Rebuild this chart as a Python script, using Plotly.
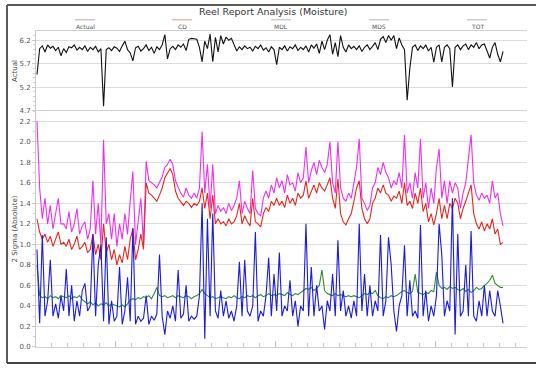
import plotly.graph_objects as go

# Reel-by-reel moisture data (sample index = reel number)
actual = [
    5.47, 6.02, 6.08, 5.95, 6.10, 6.03, 6.07, 5.98, 6.05, 5.87,
    6.02, 5.94, 6.06, 6.04, 6.10, 5.99, 6.05, 6.00, 6.08, 5.96,
    6.05, 6.00, 6.07, 5.95, 6.02, 4.79, 6.00, 6.04, 5.98, 6.06,
    6.03, 5.96, 6.08, 6.18, 6.00, 5.93, 5.76, 6.04, 6.07, 5.97,
    6.02, 6.10, 5.98, 6.05, 5.92, 6.06, 6.00, 6.10, 6.32, 5.80,
    6.02, 6.07, 6.00, 6.10, 6.05, 6.12, 5.98, 6.22, 6.24, 6.23,
    6.22, 6.05, 5.74, 6.18, 6.02, 6.33, 5.74, 6.26, 5.95, 6.30,
    6.12, 6.27, 6.20, 6.24, 6.10, 5.97, 6.06, 6.00, 6.08, 6.02,
    6.05, 5.97, 6.07, 6.02, 6.10, 5.99, 6.04, 5.95, 6.06, 6.00,
    5.68, 6.05, 6.00, 6.08, 5.97, 6.06, 6.02, 6.10, 5.98, 6.05,
    6.00, 6.08, 5.95, 6.10, 6.03, 6.12, 5.92, 6.18, 6.00, 6.20,
    6.32, 5.90, 6.15, 5.85, 6.30, 6.05, 5.95, 6.10, 6.02, 6.07,
    6.00, 6.08, 5.96, 6.05, 6.10, 6.00, 6.07, 6.15, 6.00, 6.22,
    6.28, 6.15, 6.30, 6.20, 6.30, 6.02, 6.25, 6.10, 6.00, 4.92,
    5.60, 6.05, 6.10, 5.98, 6.08, 6.02, 6.10, 5.97, 6.05, 5.73,
    6.05, 6.10, 5.74, 6.05, 6.10, 6.02, 5.20, 6.05, 6.10, 6.00,
    6.08, 6.12, 6.00, 6.10, 6.05, 6.15, 6.02, 6.10, 6.12, 5.95,
    5.82, 6.05, 6.15, 5.90, 5.74, 5.96,
]

tot = [
    2.20, 1.55, 1.25, 1.45, 1.20, 1.38, 1.15, 1.30, 1.45, 1.20,
    1.20, 1.15, 1.32, 1.12, 1.20, 1.35, 1.10, 1.18, 1.22, 1.05,
    1.15, 1.62, 1.10, 1.40, 1.00, 2.02, 1.20, 1.30, 1.05, 1.30,
    0.98, 1.20, 1.05, 1.30, 1.10, 1.42, 1.71, 1.00, 1.20, 1.45,
    1.00, 1.81, 1.62, 1.60, 1.58, 1.55, 1.60, 1.66, 1.75, 1.78,
    1.83, 1.78, 1.62, 1.55, 1.50, 1.46, 1.55, 1.48, 1.45, 1.50,
    1.45, 1.55, 2.10, 1.50, 1.78, 1.35, 1.78, 1.30, 1.38, 1.32,
    1.36, 1.30, 1.40, 1.33, 1.38, 1.45, 1.62, 1.30, 1.42, 1.35,
    1.30, 1.72, 1.35, 1.30, 1.28, 1.45, 1.52, 1.45, 1.58, 1.50,
    1.65, 1.55, 1.62, 1.50, 1.68, 1.58, 1.60, 1.52, 1.70, 1.60,
    1.65, 1.95, 1.60, 1.72, 1.80, 1.68, 1.82, 1.75, 1.70, 1.78,
    2.00, 1.60, 1.50, 2.00, 1.55, 1.45, 1.42, 1.50, 1.45, 1.60,
    1.75, 2.03, 1.45, 1.40, 1.33, 1.38, 1.55, 1.60, 1.75, 1.68,
    1.80, 1.70, 1.65, 1.55, 1.62, 1.58, 1.70, 1.55, 2.07, 1.50,
    1.60, 1.45, 1.70, 1.55, 2.03, 1.45, 1.60, 1.35, 1.55, 1.40,
    1.75, 1.93, 1.45, 1.62, 1.40, 1.62, 1.50, 1.60, 1.55, 1.35,
    1.50, 1.60, 1.85, 2.07, 1.60, 1.48, 1.43, 1.50, 1.45, 1.48,
    1.40, 1.62, 1.45, 1.50, 1.30, 1.18,
]

cd = [
    1.25, 1.12, 1.05, 1.10, 1.02, 1.08, 0.98, 1.05, 1.12, 1.00,
    1.02, 0.98, 1.05, 0.95, 1.00, 1.08, 0.95, 0.98, 1.02, 0.92,
    0.95, 1.10, 0.90, 1.00, 0.85, 1.20, 0.92, 1.00, 0.85, 0.95,
    0.80, 0.90, 0.82, 0.98, 0.85, 1.05, 1.15, 0.85, 0.95, 1.10,
    0.95, 1.60, 1.50, 1.48, 1.45, 1.42, 1.48, 1.55, 1.65, 1.70,
    1.74, 1.68, 1.52, 1.45, 1.42, 1.38, 1.42, 1.40, 1.36, 1.40,
    1.38, 1.42, 1.55, 1.35, 1.50, 1.25, 1.48, 1.20, 1.25, 1.20,
    1.22, 1.18, 1.25, 1.20, 1.22, 1.28, 1.40, 1.20, 1.28, 1.22,
    1.18, 1.45, 1.22, 1.20, 1.17, 1.30, 1.36, 1.32, 1.42, 1.38,
    1.45, 1.38, 1.42, 1.36, 1.48, 1.40, 1.45, 1.38, 1.50, 1.45,
    1.48, 1.62, 1.45, 1.52, 1.58, 1.50, 1.60, 1.55, 1.52, 1.58,
    1.65, 1.45, 1.35, 1.64, 1.30, 1.22, 1.19, 1.25, 1.30, 1.42,
    1.55, 1.62, 1.35, 1.25, 1.20, 1.25, 1.40, 1.45, 1.55, 1.50,
    1.58, 1.50, 1.48, 1.42, 1.47, 1.45, 1.52, 1.40, 1.60, 1.38,
    1.42, 1.35, 1.50, 1.40, 1.55, 1.32, 1.40, 1.22, 1.30, 1.19,
    1.30, 1.45, 1.25, 1.38, 1.25, 1.40, 1.35, 1.45, 1.40, 1.25,
    1.35, 1.42, 1.50, 1.58, 1.30, 1.20, 1.15, 1.22, 1.13, 1.20,
    1.15, 1.25, 1.10, 1.15, 1.00, 1.02,
]

mds = [
    0.95, 0.23, 1.09, 0.30, 0.45, 0.85, 0.30, 0.42, 0.28, 0.50,
    0.35, 0.76, 0.30, 0.60, 0.25, 0.45, 0.30, 0.55, 0.62, 0.35,
    0.40, 1.10, 0.30, 0.80, 1.00, 0.25, 1.07, 0.22, 0.45, 0.25,
    0.30, 0.78, 0.22, 0.35, 0.68, 0.25, 1.16, 0.22, 0.30, 0.25,
    0.28, 0.50, 0.22, 0.30, 0.26, 0.32, 0.90, 0.30, 0.12, 0.35,
    0.28, 0.40, 0.25, 0.75, 0.28, 0.32, 0.60, 0.25, 0.30, 0.27,
    0.30, 0.50, 1.40, 0.08, 1.25, 0.30, 1.30, 0.35, 0.28, 0.55,
    0.30, 0.45, 0.28, 0.35, 0.25, 0.40, 0.83, 0.30, 0.85, 0.35,
    0.30, 0.40, 1.12, 0.25, 0.35, 0.30, 0.50, 0.87, 0.30, 0.71,
    0.35, 0.92, 0.30, 0.40, 0.35, 0.65, 0.30, 0.45, 0.20, 0.40,
    0.35, 1.20, 0.30, 0.78, 0.30, 0.60, 0.35, 0.40, 0.17, 0.45,
    0.35, 0.71, 0.30, 1.04, 0.35, 0.55, 0.30, 0.40, 0.28, 0.45,
    0.30, 1.20, 0.35, 0.71, 0.30, 0.60, 0.30, 0.45, 0.35, 1.09,
    0.30, 0.45, 1.07, 0.80, 0.35, 0.15, 0.40, 0.50, 0.99, 0.30,
    0.65, 0.30, 0.35, 0.28, 1.19, 0.30, 0.55, 0.25, 0.40, 0.30,
    0.50, 1.20, 0.90, 0.30, 0.45, 0.35, 1.45, 0.12, 1.10, 0.30,
    0.35, 0.80, 0.30, 1.13, 0.30, 0.25, 0.45, 0.30, 0.60, 0.30,
    0.55, 0.35, 0.30, 0.55, 0.40, 0.23,
]

mdl = [
    0.80, 0.50, 0.48, 0.49, 0.47, 0.50, 0.48, 0.49, 0.47, 0.50,
    0.49, 0.48, 0.50, 0.47, 0.49, 0.48, 0.50, 0.46, 0.44, 0.42,
    0.44, 0.41, 0.43, 0.40, 0.42, 0.41, 0.43, 0.40, 0.42, 0.41,
    0.40, 0.39, 0.41, 0.39, 0.42, 0.46, 0.47, 0.46, 0.48, 0.47,
    0.49, 0.48, 0.50, 0.47, 0.52, 0.58, 0.50, 0.49, 0.50, 0.48,
    0.49, 0.50, 0.48, 0.50, 0.49, 0.48, 0.50, 0.49, 0.47, 0.49,
    0.50, 0.52, 0.56, 0.52, 0.50, 0.48, 0.49, 0.47, 0.48, 0.49,
    0.48, 0.47, 0.49, 0.48, 0.50, 0.48, 0.47, 0.49, 0.48, 0.50,
    0.49, 0.50, 0.48, 0.50, 0.51, 0.49, 0.50, 0.52, 0.50, 0.51,
    0.50, 0.52, 0.51, 0.50, 0.53, 0.51, 0.50, 0.52, 0.51, 0.53,
    0.55, 0.57, 0.56, 0.58, 0.55, 0.57, 0.60, 0.75, 0.55, 0.52,
    0.51, 0.50, 0.52, 0.50, 0.51, 0.50, 0.49, 0.50, 0.49, 0.50,
    0.49, 0.48, 0.50, 0.52, 0.51, 0.53, 0.52, 0.55, 0.50, 0.48,
    0.47, 0.49, 0.48, 0.50, 0.49, 0.50, 0.52, 0.54, 0.55, 0.53,
    0.52, 0.54, 0.71, 0.53, 0.52, 0.51, 0.53, 0.52, 0.55, 0.54,
    0.73, 0.60, 0.57, 0.58, 0.56, 0.59, 0.57, 0.58, 0.56, 0.55,
    0.57, 0.54, 0.56, 0.53, 0.55, 0.58, 0.56, 0.57, 0.60, 0.62,
    0.65, 0.70, 0.62, 0.60, 0.58, 0.58,
]

legend_names = ["Actual", "CD", "MDL", "MDS", "TOT"]
legend_x = [85, 182, 281, 379, 477]
legend_line_colors = ["#b9aaaa", "#e39a9a", "#b5b5b5", "#b5b5b5", "#b5b5b5"]

top_ticks = [4.7, 5.2, 5.7, 6.2]
bottom_ticks = [0.0, 0.2, 0.4, 0.6, 0.8, 1.0, 1.2, 1.4, 1.6, 1.8, 2.0, 2.2]

W, H = 536, 369
reels = list(range(len(actual)))


def px(x):
    return x / W


def py(y):
    return 1 - y / H


fig = go.Figure()

line_w = 1.1
fig.add_trace(go.Scatter(x=reels, y=actual, mode="lines", name="Actual",
                         line=dict(color="#111111", width=line_w),
                         xaxis="x", yaxis="y"))
fig.add_trace(go.Scatter(x=reels, y=mdl, mode="lines", name="MDL",
                         line=dict(color="#2e8b2e", width=line_w),
                         xaxis="x2", yaxis="y2"))
fig.add_trace(go.Scatter(x=reels, y=tot, mode="lines", name="TOT",
                         line=dict(color="#ee30ee", width=line_w),
                         xaxis="x2", yaxis="y2"))
fig.add_trace(go.Scatter(x=reels, y=cd, mode="lines", name="CD",
                         line=dict(color="#e8261e", width=line_w),
                         xaxis="x2", yaxis="y2"))
fig.add_trace(go.Scatter(x=reels, y=mds, mode="lines", name="MDS",
                         line=dict(color="#1a1ae0", width=line_w),
                         xaxis="x2", yaxis="y2"))

xr = [-0.375, 184.0]
xdom = [px(36), px(527)]
tick_font = dict(family="DejaVu Sans", size=7, color="#555555")
title_font = dict(family="DejaVu Sans", size=7, color="#444444")
grid_c = "#dcdcdc"

fig.update_layout(
    width=W, height=H,
    margin=dict(l=0, r=0, t=0, b=0),
    paper_bgcolor="white", plot_bgcolor="white",
    showlegend=False,
    xaxis=dict(domain=xdom, range=xr, showticklabels=False, showgrid=False,
               zeroline=False, ticks="", showline=True, mirror=True,
               linecolor="#d0d0d0", linewidth=1, anchor="y"),
    yaxis=dict(domain=[py(111.7), py(31.7)], range=[4.7, 6.39],
               tickvals=top_ticks, ticktext=[f"{v:.1f}" for v in top_ticks],
               tickfont=tick_font, gridcolor=grid_c, gridwidth=1,
               zeroline=False, showline=True, linecolor="#c8c8c8",
               ticks="outside", ticklen=3, tickcolor="#c8c8c8",
               minor=dict(dtick=0.1, ticks="outside", ticklen=2,
                          tickcolor="#d0d0d0", showgrid=False),
               title=dict(text="Actual", font=title_font, standoff=1),
               anchor="x"),
    xaxis2=dict(domain=xdom, range=xr, showticklabels=False, showgrid=False,
                zeroline=False, showline=True, mirror=True,
                linecolor="#d0d0d0", linewidth=1,
                tickvals=[29.6, 89.6, 149.6], ticks="inside", ticklen=6,
                tickcolor="#c0c0c0",
                minor=dict(tick0=-0.4, dtick=6, ticks="inside", ticklen=4,
                           tickcolor="#c8c8c8", showgrid=False),
                anchor="y2"),
    yaxis2=dict(domain=[py(350.7), py(112.3)], range=[0, 2.3],
                tickvals=bottom_ticks, ticktext=[f"{v:.1f}" for v in bottom_ticks],
                tickfont=tick_font, gridcolor=grid_c, gridwidth=1,
                zeroline=False, showline=True, linecolor="#c8c8c8",
                ticks="outside", ticklen=3, tickcolor="#c8c8c8",
                minor=dict(dtick=0.1, ticks="outside", ticklen=2,
                           tickcolor="#d0d0d0", showgrid=False),
                title=dict(text="2 Sigma (Absolute)", font=title_font, standoff=1),
                anchor="x2"),
)

# Chart title
fig.add_annotation(text="Reel Report Analysis (Moisture)", xref="paper", yref="paper",
                   x=px(273), y=py(12), showarrow=False, xanchor="center", yanchor="middle",
                   font=dict(family="DejaVu Sans", size=9.5, color="#333333"))

# Legend row: short line above each series name
shapes = []
for name, lx, lc in zip(legend_names, legend_x, legend_line_colors):
    fig.add_annotation(text=name, xref="paper", yref="paper", x=px(lx), y=py(26.5),
                       showarrow=False, xanchor="center", yanchor="middle",
                       font=dict(family="DejaVu Sans", size=6, color="#555555"))
    shapes.append(dict(type="line", xref="paper", yref="paper",
                       x0=px(lx - 10), x1=px(lx + 10), y0=py(20), y1=py(20),
                       line=dict(color=lc, width=1)))

# Outer frame
frame_c = "#5a5a5a"
shapes += [
    dict(type="line", xref="paper", yref="paper", x0=px(7), x1=1, y0=py(5), y1=py(5),
         line=dict(color=frame_c, width=2)),
    dict(type="line", xref="paper", yref="paper", x0=px(7), x1=px(7), y0=py(5), y1=py(367),
         line=dict(color=frame_c, width=2)),
    dict(type="line", xref="paper", yref="paper", x0=px(7), x1=1, y0=py(367), y1=py(367),
         line=dict(color="#444444", width=2)),
]
fig.update_layout(shapes=shapes)

fig.write_html("out.html", config={"displayModeBar": False})
